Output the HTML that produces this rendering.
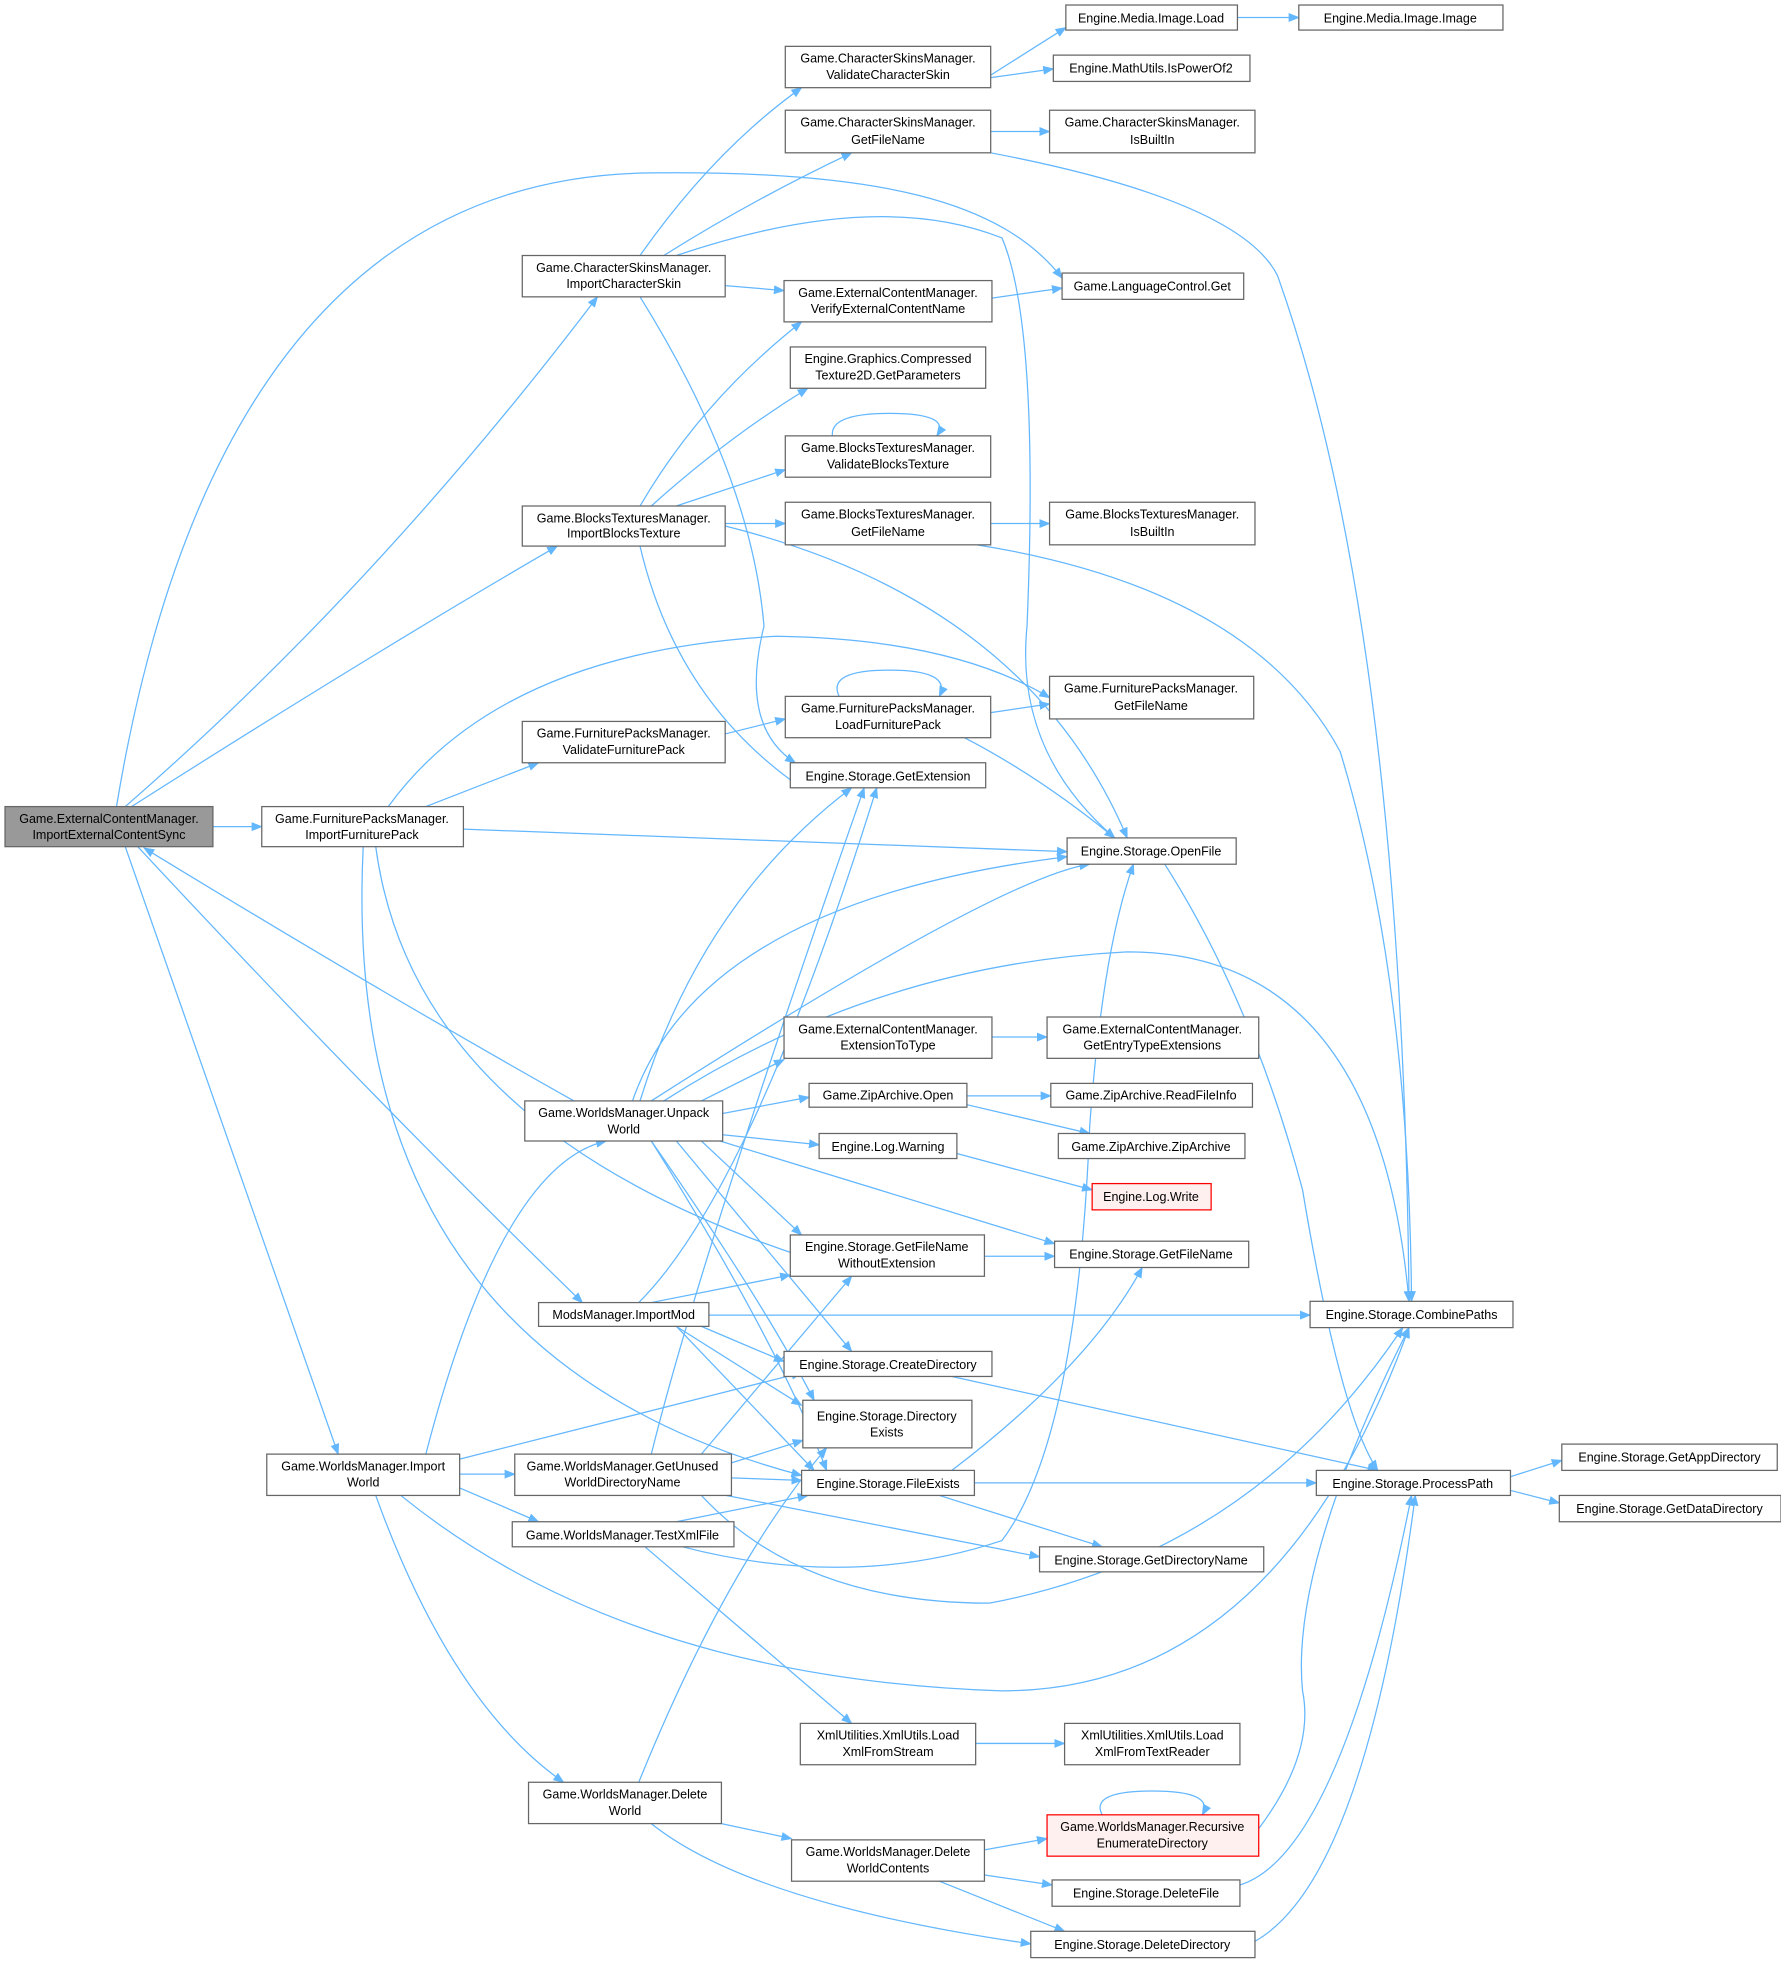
<!DOCTYPE html>
<html><head><meta charset="utf-8"><style>html,body{margin:0;padding:0;background:#fff}svg{display:block}</style></head><body>
<svg width="1781" height="1961" viewBox="0 0 1422 1565.7" xmlns="http://www.w3.org/2000/svg" font-family="Liberation Sans, Arial, sans-serif" font-size="10">
<defs><marker id="a" viewBox="0 0 10 10" refX="9" refY="5" markerWidth="9" markerHeight="9" markerUnits="userSpaceOnUse" orient="auto"><path d="M0,1 L10,5 L0,9 z" fill="#63b7ff"/></marker></defs>
<g fill="none" stroke="#63b7ff" stroke-width="1" marker-end="url(#a)">
<path d="M170,660 L209,660"/>
<path d="M100,644 Q300,470 477,237"/>
<path d="M105,644 Q300,520 445,436"/>
<path d="M93,644 C150,300 300,140 520,138 C700,136 800,160 848,222"/>
<path d="M100,676 L270,1161"/>
<path d="M110,676 Q300,880 465,1040"/>
<path d="M460,880 Q300,790 115,677"/>
<path d="M511,204 Q570,120 640,70"/>
<path d="M530,204 Q600,160 680,122"/>
<path d="M579,228 L626,232"/>
<path d="M511,237 Q600,380 610,500 Q590,580 635,609"/>
<path d="M540,204 Q700,150 800,190 Q830,260 820,500 Q810,600 890,669"/>
<path d="M791,60 L851,22"/>
<path d="M791,62 L841,55"/>
<path d="M988,14 L1037,14"/>
<path d="M791,105 L838,105"/>
<path d="M791,122 Q990,160 1020,220 Q1120,500 1125,1039"/>
<path d="M792,238 L848,230"/>
<path d="M511,404 Q560,320 640,257"/>
<path d="M520,404 Q580,350 645,310"/>
<path d="M540,404 L627,375"/>
<path d="M579,418 L627,418"/>
<path d="M511,436 Q540,560 640,629"/>
<path d="M579,420 Q820,480 900,669"/>
<path d="M665,350 Q660,330 710,330 Q760,330 748,348"/>
<path d="M791,418 L838,418"/>
<path d="M780,435 Q1000,470 1070,600 Q1125,780 1127,1039"/>
<path d="M340,644 L430,609"/>
<path d="M310,644 Q400,520 620,508 Q760,510 838,557"/>
<path d="M370,662 L852,680"/>
<path d="M300,676 Q330,900 640,1003"/>
<path d="M290,676 Q270,1080 640,1178"/>
<path d="M579,586 L627,574"/>
<path d="M791,569 L838,562"/>
<path d="M770,589 Q830,620 890,669"/>
<path d="M670,556 Q660,535 710,535 Q760,535 750,556"/>
<path d="M930,690 Q1000,800 1040,950 Q1070,1130 1100,1174"/>
<path d="M511,879 Q560,720 680,629"/>
<path d="M505,879 Q560,720 852,684"/>
<path d="M520,879 Q800,700 870,690"/>
<path d="M530,879 Q700,770 900,760 Q1100,760 1125,1039"/>
<path d="M560,879 L626,846"/>
<path d="M577,889 L646,876"/>
<path d="M577,906 L654,914"/>
<path d="M560,911 L640,986"/>
<path d="M565,908 L842,993"/>
<path d="M540,911 L680,1079"/>
<path d="M520,911 Q610,1040 650,1118"/>
<path d="M520,911 Q620,1070 660,1174"/>
<path d="M792,828 L836,828"/>
<path d="M772,875 L839,875"/>
<path d="M772,882 L870,905"/>
<path d="M764,921 L872,950"/>
<path d="M786,1003 L842,1003"/>
<path d="M520,1040 L631,1018"/>
<path d="M566,1050 L1046,1050"/>
<path d="M560,1059 L626,1087"/>
<path d="M540,1059 L640,1122"/>
<path d="M540,1059 L650,1174"/>
<path d="M510,1040 Q600,950 700,629"/>
<path d="M760,1099 L1100,1174"/>
<path d="M778,1184 L1051,1184"/>
<path d="M760,1174 Q870,1090 912,1012"/>
<path d="M750,1194 L880,1235"/>
<path d="M340,1161 Q400,930 484,911"/>
<path d="M367,1177 L411,1177"/>
<path d="M360,1185 L430,1215"/>
<path d="M367,1165 L640,1096"/>
<path d="M320,1194 Q500,1340 800,1350 Q1020,1350 1125,1060"/>
<path d="M300,1194 Q360,1360 450,1423"/>
<path d="M584,1168 L641,1150"/>
<path d="M584,1180 L640,1182"/>
<path d="M560,1161 L680,1019"/>
<path d="M520,1161 Q560,1000 690,629"/>
<path d="M580,1194 L830,1243"/>
<path d="M560,1194 Q640,1280 790,1280 Q1000,1240 1120,1060"/>
<path d="M540,1215 L645,1194"/>
<path d="M545,1235 Q680,1270 800,1230 Q860,1150 870,900 Q880,760 905,690"/>
<path d="M515,1235 L680,1376"/>
<path d="M779,1392 L850,1392"/>
<path d="M576,1456 L632,1468"/>
<path d="M520,1456 Q600,1520 823,1552"/>
<path d="M510,1423 Q580,1250 660,1156"/>
<path d="M786,1477 L836,1468"/>
<path d="M786,1497 L840,1505"/>
<path d="M750,1502 L850,1542"/>
<path d="M880,1449 Q870,1430 920,1430 Q970,1430 960,1449"/>
<path d="M1005,1460 Q1050,1400 1040,1350 Q1030,1250 1125,1060"/>
<path d="M990,1505 Q1070,1480 1127,1194"/>
<path d="M1002,1550 Q1090,1500 1130,1194"/>
<path d="M1206,1179 L1247,1166"/>
<path d="M1206,1190 L1245,1200"/>
</g>
<g stroke="#666" stroke-width="1" fill="#fff">
<rect x="4" y="644" width="166" height="32" fill="#999"/>
<rect x="209" y="644" width="161" height="32"/>
<rect x="417" y="204" width="162" height="33"/>
<rect x="417" y="404" width="162" height="32"/>
<rect x="417" y="576" width="162" height="33"/>
<rect x="419" y="879" width="158" height="32"/>
<rect x="430" y="1040" width="136" height="19"/>
<rect x="213" y="1161" width="154" height="33"/>
<rect x="411" y="1161" width="173" height="33"/>
<rect x="409" y="1215" width="177" height="20"/>
<rect x="422" y="1423" width="154" height="33"/>
<rect x="627" y="37" width="164" height="33"/>
<rect x="627" y="88" width="164" height="34"/>
<rect x="626" y="224" width="166" height="33"/>
<rect x="631" y="277" width="156" height="33"/>
<rect x="627" y="348" width="164" height="33"/>
<rect x="627" y="401" width="164" height="34"/>
<rect x="627" y="556" width="164" height="33"/>
<rect x="631" y="609" width="156" height="20"/>
<rect x="626" y="812" width="166" height="33"/>
<rect x="646" y="865" width="126" height="19"/>
<rect x="654" y="905" width="110" height="20"/>
<rect x="631" y="986" width="155" height="33"/>
<rect x="626" y="1079" width="166" height="20"/>
<rect x="641" y="1118" width="135" height="38"/>
<rect x="640" y="1174" width="138" height="20"/>
<rect x="639" y="1376" width="140" height="33"/>
<rect x="632" y="1469" width="154" height="33"/>
<rect x="851" y="4" width="137" height="20"/>
<rect x="841" y="44" width="157" height="21"/>
<rect x="838" y="88" width="164" height="34"/>
<rect x="848" y="218" width="145" height="21"/>
<rect x="838" y="401" width="164" height="34"/>
<rect x="838" y="540" width="163" height="34"/>
<rect x="852" y="669" width="135" height="21"/>
<rect x="836" y="812" width="169" height="33"/>
<rect x="839" y="865" width="161" height="19"/>
<rect x="845" y="905" width="149" height="20"/>
<rect x="872" y="945" width="95" height="21" stroke="#f00" fill="#fff0f0"/>
<rect x="842" y="991" width="155" height="21"/>
<rect x="830" y="1235" width="179" height="20"/>
<rect x="850" y="1376" width="140" height="33"/>
<rect x="836" y="1449" width="169" height="33" stroke="#f00" fill="#fff0f0"/>
<rect x="840" y="1501" width="150" height="21"/>
<rect x="823" y="1542" width="179" height="21"/>
<rect x="1037" y="4" width="163" height="20"/>
<rect x="1046" y="1039" width="162" height="21"/>
<rect x="1051" y="1174" width="155" height="20"/>
<rect x="1247" y="1153" width="172" height="21"/>
<rect x="1245" y="1194" width="177" height="21"/>
</g>
<g fill="#000" text-anchor="middle">
<text x="87" y="657">Game.ExternalContentManager.</text><text x="87" y="670">ImportExternalContentSync</text>
<text x="289" y="657">Game.FurniturePacksManager.</text><text x="289" y="670">ImportFurniturePack</text>
<text x="498" y="217">Game.CharacterSkinsManager.</text><text x="498" y="230">ImportCharacterSkin</text>
<text x="498" y="417">Game.BlocksTexturesManager.</text><text x="498" y="429">ImportBlocksTexture</text>
<text x="498" y="589">Game.FurniturePacksManager.</text><text x="498" y="602">ValidateFurniturePack</text>
<text x="498" y="892">Game.WorldsManager.Unpack</text><text x="498" y="905">World</text>
<text x="498" y="1053">ModsManager.ImportMod</text>
<text x="290" y="1174">Game.WorldsManager.Import</text><text x="290" y="1187">World</text>
<text x="497" y="1174">Game.WorldsManager.GetUnused</text><text x="497" y="1187">WorldDirectoryName</text>
<text x="497" y="1229">Game.WorldsManager.TestXmlFile</text>
<text x="499" y="1436">Game.WorldsManager.Delete</text><text x="499" y="1449">World</text>
<text x="709" y="50">Game.CharacterSkinsManager.</text><text x="709" y="63">ValidateCharacterSkin</text>
<text x="709" y="101">Game.CharacterSkinsManager.</text><text x="709" y="115">GetFileName</text>
<text x="709" y="237">Game.ExternalContentManager.</text><text x="709" y="250">VerifyExternalContentName</text>
<text x="709" y="290">Engine.Graphics.Compressed</text><text x="709" y="303">Texture2D.GetParameters</text>
<text x="709" y="361">Game.BlocksTexturesManager.</text><text x="709" y="374">ValidateBlocksTexture</text>
<text x="709" y="414">Game.BlocksTexturesManager.</text><text x="709" y="428">GetFileName</text>
<text x="709" y="569">Game.FurniturePacksManager.</text><text x="709" y="582">LoadFurniturePack</text>
<text x="709" y="623">Engine.Storage.GetExtension</text>
<text x="709" y="825">Game.ExternalContentManager.</text><text x="709" y="838">ExtensionToType</text>
<text x="709" y="878">Game.ZipArchive.Open</text>
<text x="709" y="919">Engine.Log.Warning</text>
<text x="708" y="999">Engine.Storage.GetFileName</text><text x="708" y="1012">WithoutExtension</text>
<text x="709" y="1093">Engine.Storage.CreateDirectory</text>
<text x="708" y="1134">Engine.Storage.Directory</text><text x="708" y="1147">Exists</text>
<text x="709" y="1188">Engine.Storage.FileExists</text>
<text x="709" y="1389">XmlUtilities.XmlUtils.Load</text><text x="709" y="1402">XmlFromStream</text>
<text x="709" y="1482">Game.WorldsManager.Delete</text><text x="709" y="1495">WorldContents</text>
<text x="919" y="18">Engine.Media.Image.Load</text>
<text x="919" y="58">Engine.MathUtils.IsPowerOf2</text>
<text x="920" y="101">Game.CharacterSkinsManager.</text><text x="920" y="115">IsBuiltIn</text>
<text x="920" y="232">Game.LanguageControl.Get</text>
<text x="920" y="414">Game.BlocksTexturesManager.</text><text x="920" y="428">IsBuiltIn</text>
<text x="919" y="553">Game.FurniturePacksManager.</text><text x="919" y="567">GetFileName</text>
<text x="919" y="683">Engine.Storage.OpenFile</text>
<text x="920" y="825">Game.ExternalContentManager.</text><text x="920" y="838">GetEntryTypeExtensions</text>
<text x="919" y="878">Game.ZipArchive.ReadFileInfo</text>
<text x="919" y="919">Game.ZipArchive.ZipArchive</text>
<text x="919" y="959" fill="#000">Engine.Log.Write</text>
<text x="919" y="1005">Engine.Storage.GetFileName</text>
<text x="919" y="1249">Engine.Storage.GetDirectoryName</text>
<text x="920" y="1389">XmlUtilities.XmlUtils.Load</text><text x="920" y="1402">XmlFromTextReader</text>
<text x="920" y="1462">Game.WorldsManager.Recursive</text><text x="920" y="1475">EnumerateDirectory</text>
<text x="915" y="1515">Engine.Storage.DeleteFile</text>
<text x="912" y="1556">Engine.Storage.DeleteDirectory</text>
<text x="1118" y="18">Engine.Media.Image.Image</text>
<text x="1127" y="1053">Engine.Storage.CombinePaths</text>
<text x="1128" y="1188">Engine.Storage.ProcessPath</text>
<text x="1333" y="1167">Engine.Storage.GetAppDirectory</text>
<text x="1333" y="1208">Engine.Storage.GetDataDirectory</text>
</g>
</svg>
</body></html>
